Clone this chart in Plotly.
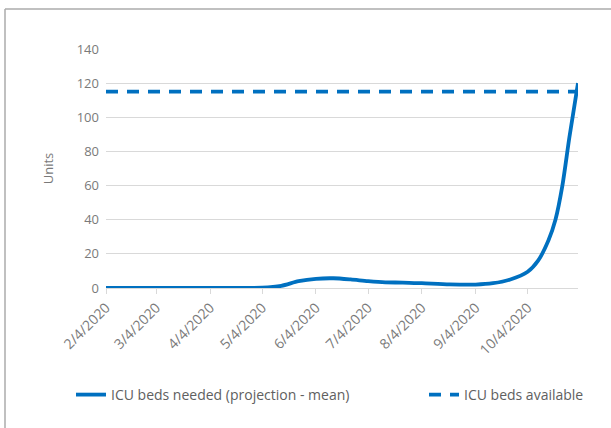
import plotly.graph_objects as go

# ICU beds needed (projection - mean)
needed_dates = [
    "2020-02-04", "2020-03-04", "2020-04-04", "2020-05-04", "2020-05-15",
    "2020-05-25", "2020-06-04", "2020-06-14", "2020-06-24", "2020-07-04",
    "2020-07-14", "2020-07-24", "2020-08-04", "2020-08-20", "2020-09-04",
    "2020-09-14", "2020-09-24", "2020-10-04", "2020-10-10", "2020-10-16",
    "2020-10-20", "2020-10-24", "2020-10-28", "2020-11-02",
]
needed_values = [
    0, 0, 0, 0.2, 1.3,
    4.0, 5.4, 5.7, 5.0, 4.0,
    3.3, 3.2, 2.8, 2.1, 2.0,
    2.8, 5.0, 9.5, 16, 28,
    40, 60, 88, 120,
]

# ICU beds available
available_dates = ["2020-02-04", "2020-11-02"]
available_values = [115, 115]

tick_dates = ["2020-02-04", "2020-03-04", "2020-04-04", "2020-05-04", "2020-06-04",
              "2020-07-04", "2020-08-04", "2020-09-04", "2020-10-04"]
tick_labels = ["2/4/2020", "3/4/2020", "4/4/2020", "5/4/2020", "6/4/2020",
               "7/4/2020", "8/4/2020", "9/4/2020", "10/4/2020"]

BLUE = "#0070C0"
GREY = "#7A7A7A"
LEG_GREY = "#606060"

W, H = 611, 428
ml, mr, mt, mb = 106, 33, 49, 140

fig = go.Figure()
fig.add_trace(go.Scatter(
    x=needed_dates, y=needed_values, mode="lines",
    name="ICU beds needed (projection - mean)",
    line=dict(color=BLUE, width=3.8, shape="spline", smoothing=0.8),
    legend="legend",
))
fig.add_trace(go.Scatter(
    x=available_dates, y=available_values, mode="lines",
    name="ICU beds available",
    line=dict(color=BLUE, width=3.8, dash="12px,9px"),
    legend="legend2",
))

# chart frame (top and left edges)
pw, ph = W - ml - mr, H - mt - mb
fx0 = (5 - ml) / pw
fy1 = (H - 9 - mb) / ph
fig.add_shape(type="line", xref="paper", yref="paper", x0=fx0, x1=fx0,
              y0=-mb / ph, y1=fy1, line=dict(color="#ABABAB", width=1.5))
fig.add_shape(type="line", xref="paper", yref="paper", x0=fx0, x1=(W - ml) / pw,
              y0=fy1, y1=fy1, line=dict(color="#ABABAB", width=1.5))

leg_y = -(395 - mt - ph) / ph
leg_common = dict(orientation="h", xanchor="left", y=leg_y, yanchor="middle",
                  font=dict(size=14, color=LEG_GREY), bgcolor="rgba(0,0,0,0)")

fig.update_layout(
    width=W, height=H,
    margin=dict(l=ml, r=mr, t=mt, b=mb, autoexpand=False),
    plot_bgcolor="white", paper_bgcolor="white",
    font=dict(family="Open Sans", size=12, color=GREY),
    showlegend=True,
    legend=dict(x=(71 - ml) / pw, **leg_common),
    legend2=dict(x=(424 - ml) / pw, **leg_common),
    xaxis=dict(
        range=["2020-02-04", "2020-11-02"],
        tickvals=tick_dates, ticktext=tick_labels, tickangle=-45,
        showgrid=False, showline=True, linecolor="#D9D9D9", linewidth=1,
        ticks="outside", ticklen=5, tickcolor="#D9D9D9",
        tickfont=dict(size=14, color=GREY),
    ),
    yaxis=dict(
        range=[0, 140], dtick=20, showgrid=True, gridcolor="#D9D9D9",
        zeroline=False, showline=False,
        title=dict(text="Units", font=dict(size=13, color=GREY), standoff=20),
        tickfont=dict(size=13, color=GREY), ticklabelstandoff=6,
    ),
)

fig.write_html("out.html", config={"displayModeBar": False},
               post_script="document.body.style.margin='0px';")
